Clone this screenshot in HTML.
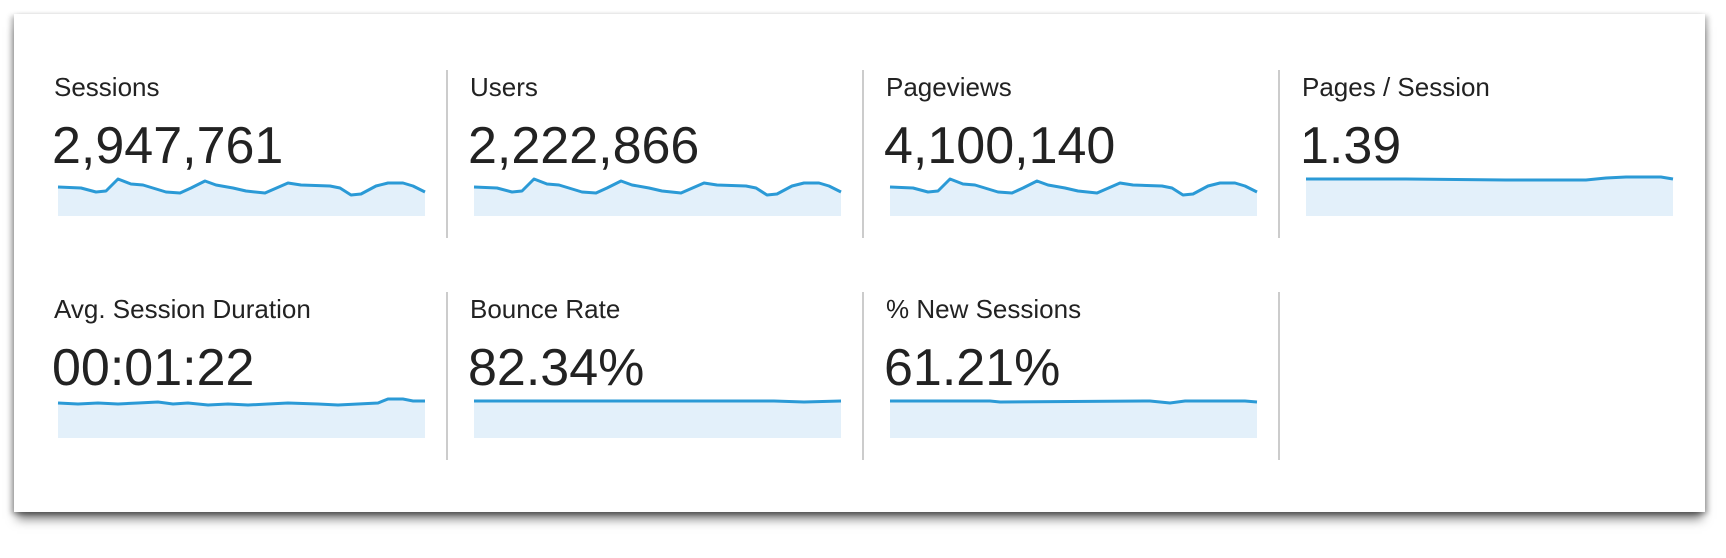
<!DOCTYPE html>
<html><head><meta charset="utf-8"><style>
html,body{margin:0;padding:0;background:#fff;width:1726px;height:558px;overflow:hidden;font-family:"Liberation Sans",Arial,sans-serif;color:#222}
.card{position:absolute;left:14px;top:14px;width:1691px;height:498px;background:#fff;box-shadow:0 10px 10px -3px rgba(0,0,0,.5),3px 2px 5px rgba(0,0,0,.25),-3px 2px 5px rgba(0,0,0,.25)}
.lbl{position:absolute;font-size:26px;color:#222}
.val{position:absolute;font-size:52px;color:#222}
.div{position:absolute;width:2px;background:#ccc}
svg{position:absolute;left:0;top:0}
</style></head><body>
<div class="card"></div>
<div class="lbl" style="left:54px;top:72px">Sessions</div>
<div class="lbl" style="left:470px;top:72px">Users</div>
<div class="lbl" style="left:886px;top:72px">Pageviews</div>
<div class="lbl" style="left:1302px;top:72px">Pages / Session</div>
<div class="val" style="left:52px;top:116px">2,947,761</div>
<div class="val" style="left:468px;top:116px">2,222,866</div>
<div class="val" style="left:884px;top:116px">4,100,140</div>
<div class="val" style="left:1300px;top:116px">1.39</div>
<div class="lbl" style="left:54px;top:294px">Avg. Session Duration</div>
<div class="lbl" style="left:470px;top:294px">Bounce Rate</div>
<div class="lbl" style="left:886px;top:294px">% New Sessions</div>
<div class="val" style="left:52px;top:338px">00:01:22</div>
<div class="val" style="left:468px;top:338px">82.34%</div>
<div class="val" style="left:884px;top:338px">61.21%</div>
<div class="div" style="left:446px;top:70px;height:168px"></div>
<div class="div" style="left:862px;top:70px;height:168px"></div>
<div class="div" style="left:1278px;top:70px;height:168px"></div>
<div class="div" style="left:446px;top:292px;height:168px"></div>
<div class="div" style="left:862px;top:292px;height:168px"></div>
<div class="div" style="left:1278px;top:292px;height:168px"></div>
<svg width="1726" height="558">
<defs>
<g id="s1">
<polygon fill="#e3f0fa" points="0,187 23,188 38,192 48,191 60,179 73,184 85,185 108,192 122,193 133,188 147,181 158,185 175,188 188,191 207,193 230,183 243,185 272,186 282,188 293,195 303,194 318,186 330,183 345,183 355,186 367,192 367,216 0,216"/>
<polyline fill="none" stroke="#2b9ad6" stroke-width="3" stroke-linejoin="round" points="0,187 23,188 38,192 48,191 60,179 73,184 85,185 108,192 122,193 133,188 147,181 158,185 175,188 188,191 207,193 230,183 243,185 272,186 282,188 293,195 303,194 318,186 330,183 345,183 355,186 367,192"/>
</g>
</defs>
<use href="#s1" transform="translate(58,0)"/>
<use href="#s1" transform="translate(474,0)"/>
<use href="#s1" transform="translate(890,0)"/>
<g transform="translate(1306,0)">
<polygon fill="#e3f0fa" points="0,179 100,179 200,180 280,180 300,178 320,177 340,177 355,177 367,179 367,216 0,216"/>
<polyline fill="none" stroke="#2b9ad6" stroke-width="3" points="0,179 100,179 200,180 280,180 300,178 320,177 340,177 355,177 367,179"/>
</g>
<g transform="translate(58,0)">
<polygon fill="#e3f0fa" points="0,403 20,404 40,403 60,404 80,403 100,402 115,404 130,403 150,405 170,404 190,405 210,404 230,403 260,404 280,405 300,404 320,403 330,399 345,399 355,401 367,401 367,438 0,438"/>
<polyline fill="none" stroke="#2b9ad6" stroke-width="3" points="0,403 20,404 40,403 60,404 80,403 100,402 115,404 130,403 150,405 170,404 190,405 210,404 230,403 260,404 280,405 300,404 320,403 330,399 345,399 355,401 367,401"/>
</g>
<g transform="translate(474,0)">
<polygon fill="#e3f0fa" points="0,401 150,401 300,401 330,402 367,401 367,438 0,438"/>
<polyline fill="none" stroke="#2b9ad6" stroke-width="3" points="0,401 150,401 300,401 330,402 367,401"/>
</g>
<g transform="translate(890,0)">
<polygon fill="#e3f0fa" points="0,401 100,401 110,402 260,401 280,403 295,401 355,401 367,402 367,438 0,438"/>
<polyline fill="none" stroke="#2b9ad6" stroke-width="3" points="0,401 100,401 110,402 260,401 280,403 295,401 355,401 367,402"/>
</g>
</svg>
</body></html>
